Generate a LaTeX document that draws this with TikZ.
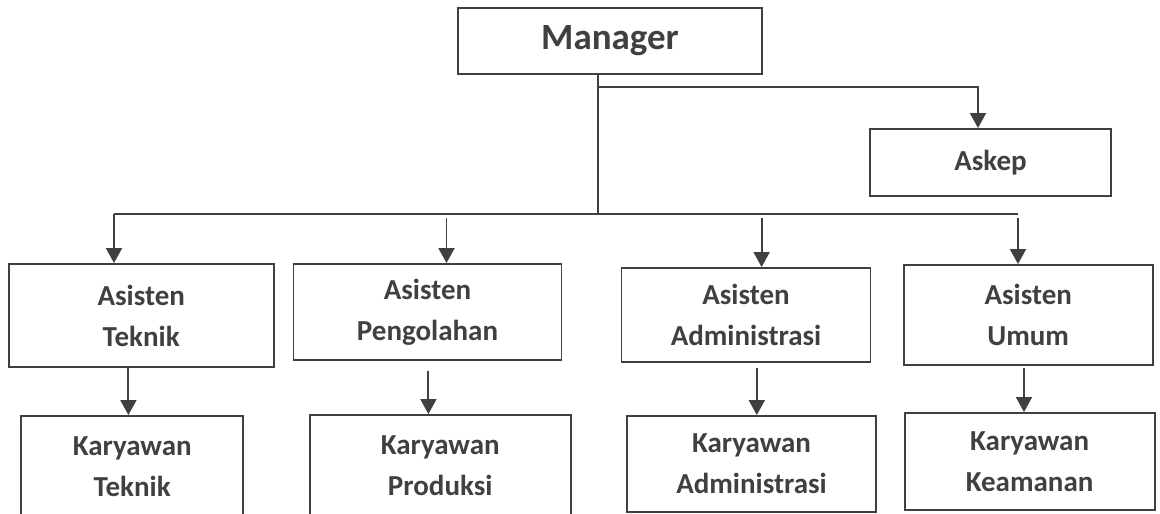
\documentclass[tikz,border=0pt]{standalone}
\usepackage{fontspec}
\setmainfont{Carlito}
\usepackage{xcolor}
\usetikzlibrary{arrows.meta,positioning}
\definecolor{linegray}{HTML}{404040}
\tikzset{
  unit/.style={draw=linegray, line width=1.9pt, text=linegray, align=center, inner sep=0pt,
    font=\bfseries\fontsize{29}{41}\selectfont},
  line/.style={draw=linegray, line width=1.9pt},
  link/.style={line, -{Triangle[length=15pt,width=16pt]}}
}
\begin{document}
\begin{tikzpicture}[x=1pt,y=-1pt]
 \useasboundingbox (0,0) rectangle (1160,514);
% nodes
 \node[unit, minimum width=304, minimum height=66, font=\bfseries\fontsize{37}{42}\selectfont] (mgr) at (610,41) {Manager};
 \node[unit, minimum width=241, minimum height=67] (askep) at (990.5,162.5) {Askep};%

 \node[unit, minimum width=265, minimum height=103] (at) at (141.2,315.5) {Asisten\\Teknik};%
 \node[unit, minimum width=268, minimum height=96] (ap) at (427.5,312) {Asisten\\Pengolahan};%
 \node[unit, minimum width=249, minimum height=94] (aa) at (746,315) {Asisten\\Administrasi};%
 \node[unit, minimum width=249, minimum height=100] (au) at (1028.2,315) {Asisten\\Umum};%

 \node[unit, minimum width=222, minimum height=101] (kt) at (132.2,466.5) {Karyawan\\Teknik};%
 \node[unit, minimum width=261, minimum height=102] (kp) at (440.2,466) {Karyawan\\Produksi};%
 \node[unit, minimum width=249, minimum height=96] (ka) at (751.5,464) {Karyawan\\Administrasi};%
 \node[unit, minimum width=250, minimum height=97] (kk) at (1029.6,461.5) {Karyawan\\Keamanan};%

% bus points
 \coordinate (askfork) at (598,87);
 \coordinate (fork) at (598,214);
 \coordinate (busL) at (114,214);
 \coordinate (busR) at (1018,214);
 \coordinate (askx) at (978,0);
 \coordinate (d2) at (446.5,218);
 \coordinate (d3) at (761.6,218);
 \coordinate (d4) at (1018,218);
 \coordinate (v1) at (128.4,0);
 \coordinate (v2) at (428.4,0);
 \coordinate (v3) at (756.8,0);
 \coordinate (v4) at (1024,0);

% edges
 \draw[line] (fork |- mgr.south) -- (fork);
 \draw[link] (askfork) -| (askx |- askep.north);
 \draw[line] (busL) -- (busR);
 \draw[link] (busL) -- (busL |- at.north);
 \foreach \c/\n in {d2/ap,d3/aa,d4/au}
   \draw[link] (\c) -- (\c |- \n.north);

 \draw[link] (v1 |- at.south) -- (v1 |- kt.north);
 \draw[link, shorten <=10pt] (v2 |- ap.south) -- (v2 |- kp.north);
 \draw[link, shorten <=5pt] (v3 |- aa.south) -- (v3 |- ka.north);
 \draw[link, shorten <=2pt] (v4 |- au.south) -- (v4 |- kk.north);
\end{tikzpicture}
\end{document}
